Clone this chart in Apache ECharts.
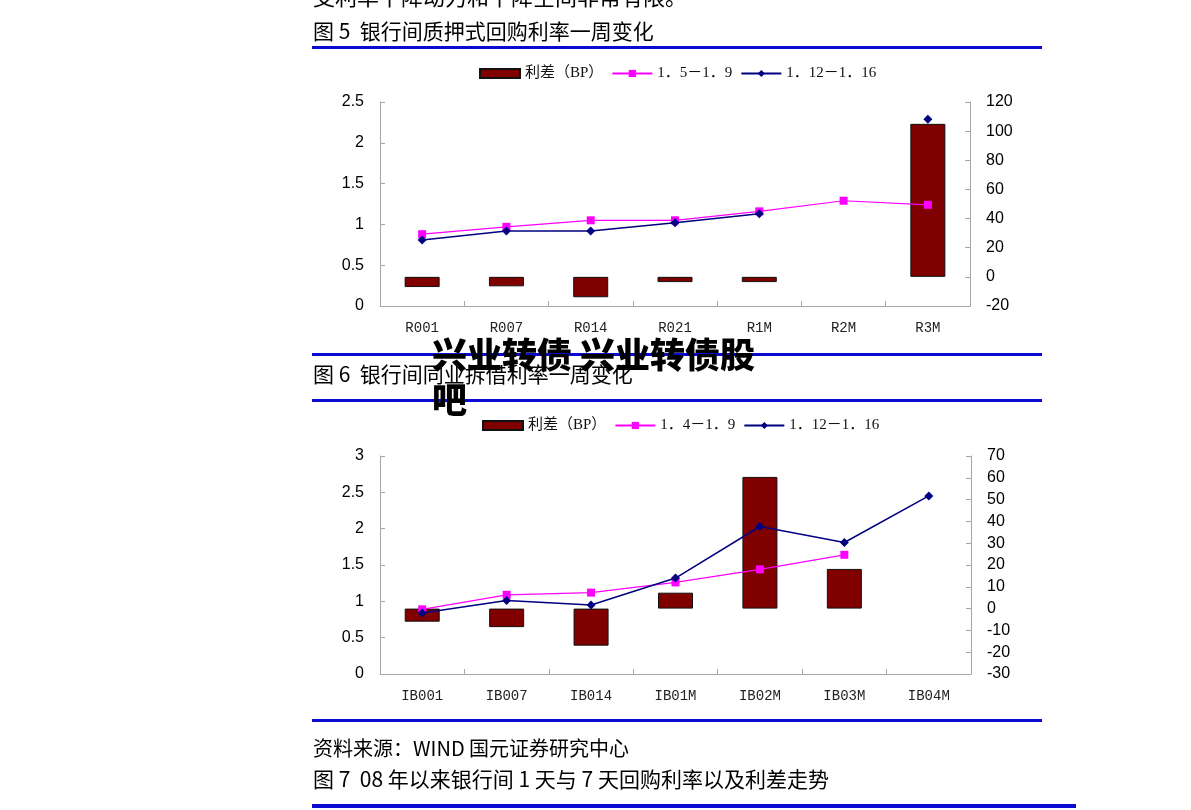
<!DOCTYPE html>
<html>
<head>
<meta charset="utf-8">
<script src="https://cdn.jsdelivr.net/npm/echarts@6/dist/echarts.min.js"></script>
<style>
html,body{margin:0;padding:0;background:#fff;}
#main{width:1191px;height:810px;}
</style>
</head>
<body>
<div id="main"></div>
<script>
// ---- Figure 5 data ----
var cats1 = ['R001','R007','R014','R021','R1M','R2M','R3M'];
var spread1 = [-7, -6.5, -14, -3.6, -3.6, null, 105];      // 利差(BP), right axis
var rateA1 = [0.88, 0.97, 1.05, 1.05, 1.16, 1.29, 1.24];    // 1.5-1.9
var rateB1 = [0.81, 0.92, 0.92, 1.02, 1.13, null, 2.29];    // 1.12-1.16
var leftTicks1 = {min:0, max:2.5, interval:0.5};
var rightTicks1 = {min:-20, max:120, interval:20};

// ---- Figure 6 data ----
var cats2 = ['IB001','IB007','IB014','IB01M','IB02M','IB03M','IB04M'];
var spread2 = [-6, -8.5, -17, 7.3, 60.4, 18.2, null];
var rateA2 = [0.89, 1.09, 1.12, 1.26, 1.44, 1.64, null];    // 1.4-1.9
var rateB2 = [0.84, 1.01, 0.95, 1.32, 2.03, 1.81, 2.45];    // 1.12-1.16
var leftTicks2 = {min:0, max:3, interval:0.5};
var rightTicks2 = {min:-30, max:70, interval:10};

var names1 = ['利差（BP）','1．5－1．9','1．12－1．16'];
var names2 = ['利差（BP）','1．4－1．9','1．12－1．16'];

var AXC = '#a6a6a6';
var CJK = "'Noto Sans CJK SC'";
var SERIF = "'Liberation Serif','Noto Sans CJK SC'";
var MONO = "'Liberation Mono'";
var SANS = "'Liberation Sans'";

function xAx(gi, data){
  return {type:'category', gridIndex:gi, data:data, boundaryGap:true,
    axisLine:{show:true, lineStyle:{color:AXC, width:1}},
    axisTick:{show:true, inside:true, length:5, alignWithLabel:false, lineStyle:{color:AXC}},
    axisLabel:{color:'#222', fontFamily:MONO, fontSize:14, margin:15},
    splitLine:{show:false}};
}
function yAx(gi, pos, t){
  return {type:'value', gridIndex:gi, position:pos, min:t.min, max:t.max, interval:t.interval,
    axisLine:{show:true, onZero:false, lineStyle:{color:AXC, width:1}},
    axisTick:{show:true, inside:true, length:5, lineStyle:{color:AXC}},
    axisLabel:{color:'#000', fontFamily:SANS, fontSize:16, margin:16},
    splitLine:{show:false}};
}
function barS(name, xi, yi, data){
  return {name:name, type:'bar', xAxisIndex:xi, yAxisIndex:yi, data:data, barWidth:35,
    itemStyle:{color:'#800000', borderColor:'#111', borderWidth:1}, z:2};
}
function pinkS(name, xi, yi, data){
  return {name:name, type:'line', xAxisIndex:xi, yAxisIndex:yi, data:data, connectNulls:false,
    symbol:'rect', symbolSize:8, lineStyle:{color:'#ff00ff', width:1.2},
    itemStyle:{color:'#ff00ff'}, z:3};
}
function blueS(name, xi, yi, data){
  return {name:name, type:'line', xAxisIndex:xi, yAxisIndex:yi, data:data, connectNulls:false,
    symbol:'diamond', symbolSize:9, lineStyle:{color:'#000080', width:1.5},
    itemStyle:{color:'#000080'}, z:4};
}
function legendAt(left, top, names){
  return {left:left, top:top, orient:'horizontal', itemWidth:40, itemHeight:9, itemGap:8,
    selectedMode:false,
    data:[{name:names[0], icon:'rect'}, {name:names[1]}, {name:names[2]}],
    textStyle:{fontFamily:SERIF, fontSize:15, color:'#111'}};
}
function rule(x, y, w, h){
  return {type:'rect', shape:{x:x, y:y, width:w, height:h}, style:{fill:'#0a0ad2'}, z:10};
}
function txt(x, y, s, size){
  return {type:'text', z:11, style:{text:s, x:x, y:y, fill:'#000', font:size+'px '+CJK,
    textVerticalAlign:'middle', textAlign:'left'}};
}

var option = {
  backgroundColor:'#fff',
  animation:false,
  grid:[
    {left:380, top:102, width:590, height:204},
    {left:380, top:456, width:591, height:218}
  ],
  legend:[ legendAt(474, 61, names1), legendAt(477, 413, names2) ],
  xAxis:[ xAx(0, cats1), xAx(1, cats2) ],
  yAxis:[ yAx(0,'left',leftTicks1), yAx(0,'right',rightTicks1),
          yAx(1,'left',leftTicks2), yAx(1,'right',rightTicks2) ],
  series:[
    barS(names1[0], 0, 1, spread1),
    pinkS(names1[1], 0, 0, rateA1),
    blueS(names1[2], 0, 0, rateB1),
    barS(names2[0], 1, 3, spread2),
    pinkS(names2[1], 1, 2, rateA2),
    blueS(names2[2], 1, 2, rateB2)
  ],
  graphic:[
    txt(313, -3, '支利率下降动力和下降空间非常有限。', 22),
    txt(313, 31, '图 5  银行间质押式回购利率一周变化', 21),
    rule(312, 46, 730, 3),
    rule(312, 353, 730, 3),
    txt(313, 374, '图 6  银行间同业拆借利率一周变化', 21),
    rule(312, 399, 730, 3),
    {type:'text', z:20, style:{text:'兴业转债 兴业转债股', x:432, y:355, fill:'#000',
      font:'900 35px '+CJK, textVerticalAlign:'middle'}},
    {type:'text', z:20, style:{text:'吧', x:432, y:400, fill:'#000',
      font:'900 35px '+CJK, textVerticalAlign:'middle'}},
    rule(312, 719, 730, 3),
    txt(313, 748, '资料来源：WIND 国元证券研究中心', 20),
    txt(313, 779, '图 7  08 年以来银行间 1 天与 7 天回购利率以及利差走势', 21),
    rule(312, 804, 764, 4)
  ]
};
echarts.init(document.getElementById('main'), null, {renderer:'canvas'}).setOption(option);
</script>
</body>
</html>
